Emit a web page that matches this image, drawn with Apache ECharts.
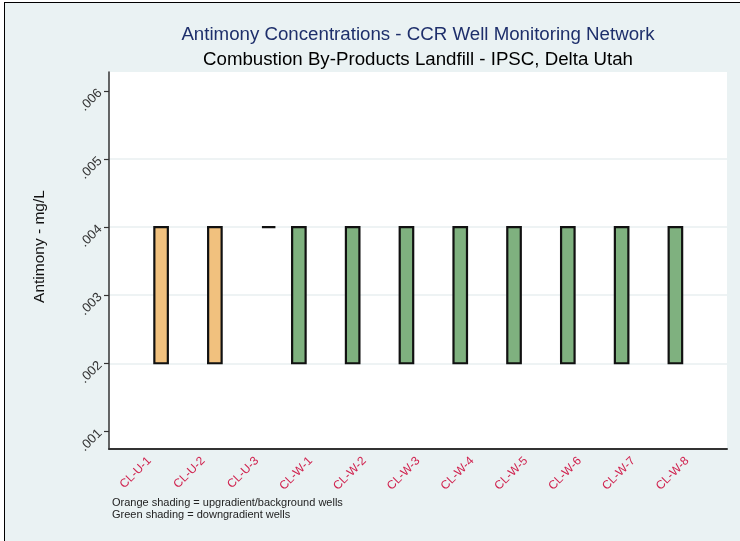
<!DOCTYPE html>
<html><head><meta charset="utf-8">
<script src="https://cdn.jsdelivr.net/npm/echarts@6/dist/echarts.min.js"></script>
<style>
html,body{margin:0;padding:0;background:#fff;width:740px;height:541px;overflow:hidden}
#frame{position:absolute;left:4px;top:2px;width:740px;height:545px;background:#EAF2F3;border-left:1.5px solid #000;border-top:1.5px solid #000;box-sizing:border-box}
#chart{position:absolute;left:0;top:0;width:740px;height:541px}
</style></head>
<body><div id="frame"></div><div id="chart"></div>
<script>
const titleText = 'Antimony Concentrations - CCR Well Monitoring Network';
const subtitleText = 'Combustion By-Products Landfill - IPSC, Delta Utah';
const yAxisTitle = 'Antimony - mg/L';
const noteLines = ['Orange shading = upgradient/background wells', 'Green shading = downgradient wells'];

const wells = ['CL-U-1','CL-U-2','CL-U-3','CL-W-1','CL-W-2','CL-W-3','CL-W-4','CL-W-5','CL-W-6','CL-W-7','CL-W-8'];
const wellGroup = ['up','up','up','down','down','down','down','down','down','down','down'];
const minVals    = [0.002,0.002,0.004,0.002,0.002,0.002,0.002,0.002,0.002,0.002,0.002];
const q1Vals     = [0.002,0.002,0.004,0.002,0.002,0.002,0.002,0.002,0.002,0.002,0.002];
const medianVals = [0.002,0.002,0.004,0.002,0.002,0.002,0.002,0.002,0.002,0.002,0.002];
const q3Vals     = [0.004,0.004,0.004,0.004,0.004,0.004,0.004,0.004,0.004,0.004,0.004];
const maxVals    = [0.004,0.004,0.004,0.004,0.004,0.004,0.004,0.004,0.004,0.004,0.004];

const yTicks = [0.001,0.002,0.003,0.004,0.005,0.006];
const gridLow = 0.002, gridHigh = 0.005, gridStep = 0.001;
const yMin = 0.00074, yMax = 0.00628;

function boxData(group) {
  const out = [];
  wells.forEach((w, i) => {
    if (wellGroup[i] === group) out.push([w, minVals[i], q1Vals[i], medianVals[i], q3Vals[i], maxVals[i]]);
  });
  return out;
}
const fmt = v => v.toFixed(3).replace(/^0/, '');
const FONT = '"Liberation Sans", Arial, sans-serif';

// plot region layout (pixels)
const PT = 72, PB = 449, CH = 541;
const valToPx = v => PT + (yMax - v) / (yMax - yMin) * (PB - PT);

const chart = echarts.init(document.getElementById('chart'), null, {renderer: 'canvas'});
chart.setOption({
  backgroundColor: 'transparent',
  animation: false,
  textStyle: {fontFamily: FONT},
  title: [
    {text: titleText, left: 418, top: 25, textAlign: 'center', padding: 0,
     textStyle: {fontFamily: FONT, fontSize: 18.7, fontWeight: 'normal', color: '#1E2F6B'}},
    {text: subtitleText, left: 418, top: 50, textAlign: 'center', padding: 0,
     textStyle: {fontFamily: FONT, fontSize: 18.7, fontWeight: 'normal', color: '#000'}},
    {text: noteLines.join('\n'), left: 112, top: 497.5, padding: 0,
     textStyle: {fontFamily: FONT, fontSize: 11, lineHeight: 11.5, fontWeight: 'normal', color: '#222'}}
  ],
  grid: [
    {left: 109, right: 13, top: PT, bottom: CH - PB, show: true, backgroundColor: '#fff', borderWidth: 0},
    {left: 122.4, right: 25.9, top: PT, bottom: CH - PB},
    {left: 109, right: 13, top: valToPx(gridHigh), bottom: CH - valToPx(gridLow)}
  ],
  xAxis: [
    {type: 'value', gridIndex: 0, min: 0, max: 1, axisLine: {show: true, onZero: false, lineStyle: {color: '#333', width: 2}},
     axisTick: {show: false}, axisLabel: {show: false}, splitLine: {show: false}},
    {type: 'category', gridIndex: 1, data: wells, boundaryGap: true,
     axisLine: {show: false}, axisTick: {show: false}, splitLine: {show: false},
     axisLabel: {rotate: 45, margin: 10, fontSize: 12, color: '#D0234F', fontFamily: FONT, interval: 0}},
    {type: 'value', gridIndex: 2, min: 0, max: 1, axisLine: {show: false}, axisTick: {show: false},
     axisLabel: {show: false}, splitLine: {show: false}}
  ],
  yAxis: [
    {type: 'value', gridIndex: 0, min: yMin, max: yMax, z: 5,
     name: yAxisTitle, nameLocation: 'middle', nameGap: 61,
     nameTextStyle: {fontSize: 15.5, color: '#111', fontFamily: FONT, padding: [0, 0, 0, 28]},
     axisLine: {show: true, lineStyle: {color: '#333', width: 1.5}},
     axisTick: {show: true, length: 5, lineStyle: {color: '#333', width: 1.2}, customValues: yTicks},
     axisLabel: {rotate: 45, margin: 9, fontSize: 13, color: '#333', fontFamily: FONT, customValues: yTicks, formatter: fmt},
     splitLine: {show: false}},
    {type: 'value', gridIndex: 1, min: yMin, max: yMax, show: false, splitLine: {show: false}},
    {type: 'value', gridIndex: 2, min: gridLow, max: gridHigh, interval: gridStep, z: 1,
     axisLine: {show: false}, axisTick: {show: false}, axisLabel: {show: false},
     splitLine: {show: true, showMinLine: true, showMaxLine: true, lineStyle: {color: '#E9EFF1', width: 1.5}}}
  ],
  series: [
    {type: 'boxplot', name: 'Downgradient wells', xAxisIndex: 1, yAxisIndex: 1, z: 3,
     encode: {x: 0, y: [1, 2, 3, 4, 5]}, boxWidth: [13.5, 13.5],
     itemStyle: {color: '#7FB17F', borderColor: '#111', borderWidth: 2.2},
     data: boxData('down')},
    {type: 'boxplot', name: 'Upgradient wells', xAxisIndex: 1, yAxisIndex: 1, z: 3,
     encode: {x: 0, y: [1, 2, 3, 4, 5]}, boxWidth: [13.5, 13.5],
     itemStyle: {color: '#F1C17E', borderColor: '#111', borderWidth: 2.2},
     data: boxData('up')}
  ]
});
</script>
</body></html>
